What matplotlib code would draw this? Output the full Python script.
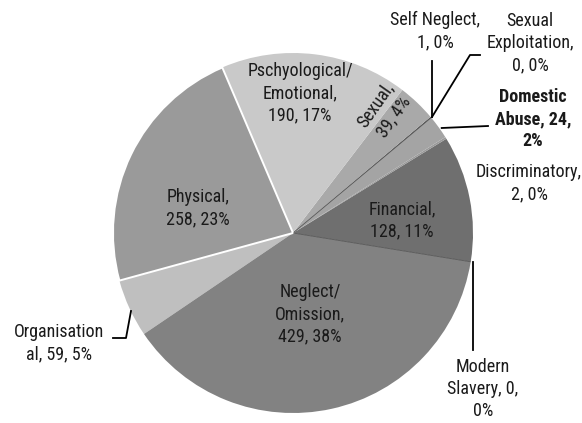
import matplotlib
matplotlib.use("Agg")
import matplotlib.pyplot as plt
from matplotlib import font_manager

names = ["Financial", "Discriminatory", "Domestic Abuse", "Sexual Exploitation",
         "Self Neglect", "Sexual", "Pschyological/Emotional", "Physical",
         "Organisational", "Neglect/Omission", "Modern Slavery"]
counts = [128, 2, 24, 0, 1, 39, 190, 258, 59, 429, 0]
pcts = [11, 0, 2, 0, 0, 4, 17, 23, 5, 38, 0]
colors = ["#6f6f6f", "#9a9a9a", "#a4a4a4", "#a8a8a8", "#4d4d4d", "#a9a9a9",
          "#c9c9c9", "#9a9a9a", "#bfbfbf", "#828282", "#828282"]

avail = {f.name for f in font_manager.fontManager.ttflist}
fam = [f for f in ["Liberation Sans Narrow", "Arial Narrow", "Roboto Condensed"] if f in avail]
plt.rcParams["font.family"] = fam + ["Liberation Sans", "DejaVu Sans"]

W, H = 582, 423
fig = plt.figure(figsize=(W / 100, H / 100), dpi=100)
ax = fig.add_axes([0, 0, 1, 1])

def Y(y):
    return H - y

cx, cy, r = 293, Y(233), 180
wedges, _ = ax.pie(counts, colors=colors, startangle=-9.2, counterclock=True,
                   center=(cx, cy), radius=r, frame=True,
                   wedgeprops=dict(linewidth=0))
ax.set_xlim(0, W)
ax.set_ylim(0, H)
ax.set_aspect("equal")
ax.axis("off")

# white border on Physical, thin dark edges on zero slices
wedges[names.index("Physical")].set_edgecolor("white")
wedges[names.index("Physical")].set_linewidth(1.4)
wedges[names.index("Physical")].set_zorder(3)
for n in ["Modern Slavery", "Sexual Exploitation"]:
    wedges[names.index(n)].set_edgecolor("#555555")
    wedges[names.index(n)].set_linewidth(0.6)
    wedges[names.index(n)].set_zorder(3)

fs = 13
def lab(x, y, text, **kw):
    ax.text(x, Y(y), text, ha="center", va="center", fontsize=fs,
            color="#1a1a1a", linespacing=1.3, zorder=5, **kw)

def c(i):
    return f"{counts[i]}, {pcts[i]}%"

lab(402, 220, f"Financial,\n{c(0)}")
lab(198, 208, f"Physical,\n{c(7)}")
lab(300, 93, f"Pschyological/\nEmotional,\n{c(6)}")
lab(310, 314, f"Neglect/\nOmission,\n{c(9)}")
lab(385, 111, f"Sexual,\n{c(5)}", rotation=55)
lab(435, 31, f"Self Neglect,\n{c(4)}")
lab(530, 43, f"Sexual\nExploitation,\n{c(3)}")
lab(533, 119, f"Domestic\nAbuse, {counts[2]},\n{pcts[2]}%", fontweight="bold")
lab(529, 183, f"Discriminatory,\n{c(1)}")
lab(483, 389, f"Modern\nSlavery, 0,\n0%")
lab(59, 343, f"Organisation\nal, {c(8)}")

# leader lines
lw = 1.3
ax.plot([432, 432], [Y(61), Y(117)], color="black", lw=lw, zorder=6)
ax.plot([432, 470, 480], [Y(117), Y(55), Y(55)], color="black", lw=lw, zorder=6)
ax.plot([441.7, 488], [Y(128), Y(126)], color="black", lw=lw, zorder=6)
ax.plot([472.5, 472.5], [Y(262), Y(350)], color="black", lw=lw, zorder=6)
ax.plot([113, 126, 131], [Y(338), Y(338), Y(311)], color="black", lw=lw, zorder=6)

fig.savefig("out.png", dpi=100)
